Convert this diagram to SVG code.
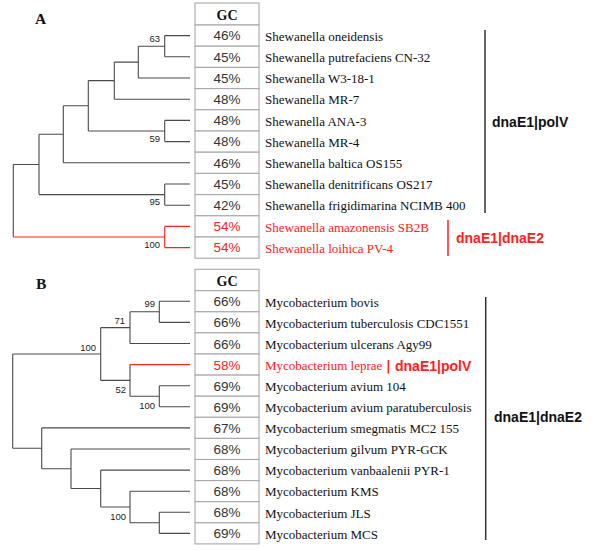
<svg xmlns="http://www.w3.org/2000/svg" width="600" height="551" viewBox="0 0 600 551">
<style>
.t{fill:none;stroke:#4a4a4a;stroke-width:1.1}
.r{fill:none;stroke:#ff2020;stroke-width:1.1}
.cell{fill:#fff;stroke:#a8a8a8;stroke-width:1.1}
.sp{font-family:"Liberation Serif",serif;font-size:13px;fill:#111}
.spr{font-family:"Liberation Serif",serif;font-size:13px;fill:#ff2020}
.gc{font-family:"Liberation Sans",sans-serif;font-size:13.5px;fill:#333;text-anchor:middle}
.gcr{font-family:"Liberation Sans",sans-serif;font-size:13.5px;fill:#ff2020;text-anchor:middle}
.hd{font-family:"Liberation Serif",serif;font-size:14px;font-weight:bold;fill:#111;text-anchor:middle}
.bs{font-family:"Liberation Sans",sans-serif;font-size:9.5px;fill:#222;text-anchor:end}
.pl{font-family:"Liberation Serif",serif;font-size:15.5px;font-weight:bold;fill:#111}
.gl{font-family:"Liberation Sans",sans-serif;font-size:14px;font-weight:bold;fill:#111}
.glr{font-family:"Liberation Sans",sans-serif;font-size:14px;font-weight:bold;fill:#ff2020}
.br{stroke:#333;stroke-width:1.5}
.brr{stroke:#ff2020;stroke-width:1.5}
</style>

<g id="panelA-label"><text class="pl" x="35" y="24">A</text></g>
<g id="panelB-label"><text class="pl" x="36" y="289">B</text></g>

<g id="connectors">
<!-- Panel A tree -->
<path class="t" d="M164.7,35.6V56.8M164.7,35.6H190M164.7,56.8H190
M138.3,46.2V78M138.3,46.2H164.7M138.3,78H190
M114.3,62.1V99.2M114.3,62.1H138.3M114.3,99.2H190
M164.7,120.4V141.6M164.7,120.4H190M164.7,141.6H190
M88.3,80.6V131M88.3,80.6H114.3M88.3,131H164.7
M63.3,105.8V162.8M63.3,105.8H88.3M63.3,162.8H190
M164.7,184V205.2M164.7,184H190M164.7,205.2H190
M39,134.3V194.6M39,134.3H63.3M39,194.6H164.7
M13.3,164.5V237M13.3,164.5H39"/>
<path class="r" d="M13.3,237H164.7M164.7,226.4V247.6M164.7,226.4H190M164.7,247.6H190"/>
<!-- Panel B tree -->
<path class="t" d="M159.3,301.2V322.4M159.3,301.2H190M159.3,322.4H190
M130,311.8V343.5M130,311.8H159.3M130,343.5H190
M130,364.6V396.2M130,396.2H159.3
M159.3,385.7V406.8M159.3,385.7H190M159.3,406.8H190
M100.7,327.6V380.4M100.7,327.6H130M100.7,380.4H130
M12.7,354V448.3M12.7,354H100.7M12.7,448.3H41.7
M41.7,427.9V468.7M41.7,427.9H190M41.7,468.7H71
M71,449V488.5M71,449H190M71,488.5H100.7
M100.7,470.1V507M100.7,470.1H190M100.7,507H130
M130,491.2V522.8M130,491.2H190M130,522.8H159.3
M159.3,512.3V533.4M159.3,512.3H190M159.3,533.4H190"/>
<path class="r" d="M130,364.6H190"/>
<!-- brackets -->
<line class="br" x1="485" y1="30" x2="485" y2="213"/>
<line class="brr" x1="448" y1="220" x2="448" y2="256"/>
<line class="br" x1="485.7" y1="297" x2="485.7" y2="540"/>
<line class="brr" x1="388.3" y1="360" x2="388.3" y2="373.5"/>
</g>

<g id="bootstrapA">
<text class="bs" x="160" y="41.5">63</text>
<text class="bs" x="160" y="142">59</text>
<text class="bs" x="160" y="205">95</text>
<text class="bs" x="160" y="247.7">100</text>
</g>
<g id="bootstrapB">
<text class="bs" x="155" y="307">99</text>
<text class="bs" x="125" y="323.5">71</text>
<text class="bs" x="96" y="350.5">100</text>
<text class="bs" x="126" y="392.5">52</text>
<text class="bs" x="155" y="408.5">100</text>
<text class="bs" x="126" y="519.5">100</text>
</g>

<g id="tableA">
<rect class="cell" x="195" y="3" width="64" height="22"/>
<text class="hd" x="227" y="20">GC</text>
<rect class="cell" x="195" y="25" width="64" height="21.2"/>
<rect class="cell" x="195" y="46.2" width="64" height="21.2"/>
<rect class="cell" x="195" y="67.4" width="64" height="21.2"/>
<rect class="cell" x="195" y="88.6" width="64" height="21.2"/>
<rect class="cell" x="195" y="109.8" width="64" height="21.2"/>
<rect class="cell" x="195" y="131" width="64" height="21.2"/>
<rect class="cell" x="195" y="152.2" width="64" height="21.2"/>
<rect class="cell" x="195" y="173.4" width="64" height="21.2"/>
<rect class="cell" x="195" y="194.6" width="64" height="21.2"/>
<rect class="cell" x="195" y="215.8" width="64" height="21.2"/>
<rect class="cell" x="195" y="237" width="64" height="21.2"/>
<text class="gc" x="227" y="40.3">46%</text>
<text class="gc" x="227" y="61.5">45%</text>
<text class="gc" x="227" y="82.7">45%</text>
<text class="gc" x="227" y="103.9">48%</text>
<text class="gc" x="227" y="125.1">48%</text>
<text class="gc" x="227" y="146.3">48%</text>
<text class="gc" x="227" y="167.5">46%</text>
<text class="gc" x="227" y="188.7">45%</text>
<text class="gc" x="227" y="209.9">42%</text>
<text class="gcr" x="227" y="231.1">54%</text>
<text class="gcr" x="227" y="252.3">54%</text>
</g>

<g id="speciesA">
<text class="sp" x="265" y="41">Shewanella oneidensis</text>
<text class="sp" x="265" y="62">Shewanella putrefaciens CN-32</text>
<text class="sp" x="265" y="83.2">Shewanella W3-18-1</text>
<text class="sp" x="265" y="104.4">Shewanella MR-7</text>
<text class="sp" x="265" y="125.6">Shewanella ANA-3</text>
<text class="sp" x="265" y="146.8">Shewanella MR-4</text>
<text class="sp" x="265" y="168">Shewanella baltica OS155</text>
<text class="sp" x="265" y="189.2">Shewanella denitrificans OS217</text>
<text class="sp" x="265" y="210.4">Shewanella frigidimarina NCIMB 400</text>
<text class="spr" x="265" y="231.6">Shewanella amazonensis SB2B</text>
<text class="spr" x="265" y="252.8">Shewanella loihica PV-4</text>
</g>

<g id="groupA1"><text class="gl" x="492" y="127">dnaE1|polV</text></g>
<g id="groupA2"><text class="glr" x="456" y="243">dnaE1|dnaE2</text></g>

<g id="tableB">
<rect class="cell" x="195" y="269.3" width="64" height="21.4"/>
<text class="hd" x="227" y="285.5">GC</text>
<rect class="cell" x="195" y="290.7" width="64" height="21.1"/>
<rect class="cell" x="195" y="311.8" width="64" height="21.1"/>
<rect class="cell" x="195" y="332.9" width="64" height="21.1"/>
<rect class="cell" x="195" y="354" width="64" height="21.1"/>
<rect class="cell" x="195" y="375.1" width="64" height="21.1"/>
<rect class="cell" x="195" y="396.2" width="64" height="21.1"/>
<rect class="cell" x="195" y="417.3" width="64" height="21.1"/>
<rect class="cell" x="195" y="438.4" width="64" height="21.1"/>
<rect class="cell" x="195" y="459.5" width="64" height="21.1"/>
<rect class="cell" x="195" y="480.6" width="64" height="21.1"/>
<rect class="cell" x="195" y="501.7" width="64" height="21.1"/>
<rect class="cell" x="195" y="522.8" width="64" height="21.1"/>
<text class="gc" x="227" y="306.3">66%</text>
<text class="gc" x="227" y="327.4">66%</text>
<text class="gc" x="227" y="348.5">66%</text>
<text class="gcr" x="227" y="369.6">58%</text>
<text class="gc" x="227" y="390.7">69%</text>
<text class="gc" x="227" y="411.8">69%</text>
<text class="gc" x="227" y="432.9">67%</text>
<text class="gc" x="227" y="454">68%</text>
<text class="gc" x="227" y="475.1">68%</text>
<text class="gc" x="227" y="496.2">68%</text>
<text class="gc" x="227" y="517.3">68%</text>
<text class="gc" x="227" y="538.4">69%</text>
</g>

<g id="speciesB">
<text class="sp" x="265" y="306.5">Mycobacterium bovis</text>
<text class="sp" x="265" y="327.6">Mycobacterium tuberculosis CDC1551</text>
<text class="sp" x="265" y="348.7">Mycobacterium ulcerans Agy99</text>
<text class="spr" x="265" y="369.8">Mycobacterium leprae</text>
<text class="sp" x="265" y="390.9">Mycobacterium avium 104</text>
<text class="sp" x="265" y="412">Mycobacterium avium paratuberculosis</text>
<text class="sp" x="265" y="433.1">Mycobacterium smegmatis MC2 155</text>
<text class="sp" x="265" y="454.2">Mycobacterium gilvum PYR-GCK</text>
<text class="sp" x="265" y="475.3">Mycobacterium vanbaalenii PYR-1</text>
<text class="sp" x="265" y="496.4">Mycobacterium KMS</text>
<text class="sp" x="265" y="517.5">Mycobacterium JLS</text>
<text class="sp" x="265" y="538.6">Mycobacterium MCS</text>
</g>

<g id="groupB1"><text class="glr" x="395" y="371">dnaE1|polV</text></g>
<g id="groupB2"><text class="gl" x="494" y="422">dnaE1|dnaE2</text></g>
</svg>
